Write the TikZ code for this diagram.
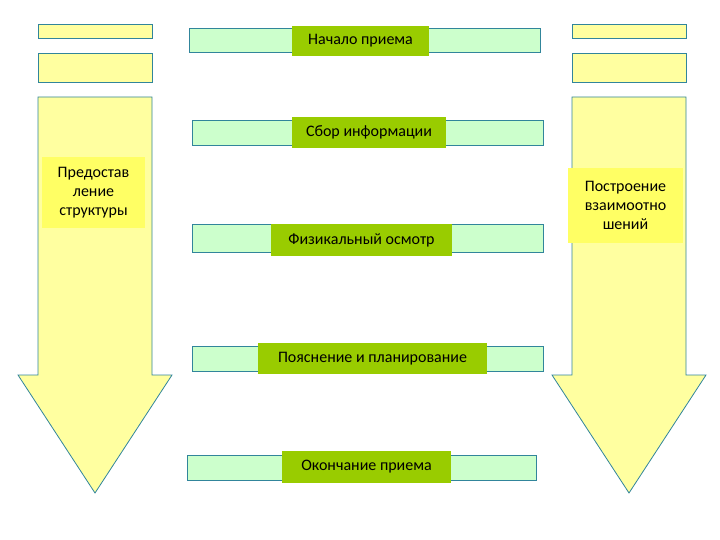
\documentclass[tikz,border=0pt]{standalone}
\usepackage{fontspec}
\setmainfont{Carlito}
\begin{document}
\begin{tikzpicture}[x=1pt,y=-1pt,
  yel/.style={fill=ylw,draw=edge,line width=0.8pt},
  bar/.style={fill=barg,draw=edge,line width=0.8pt},
  lab/.style={fill=labg,inner sep=0pt,font=\fontsize{16}{18}\selectfont},
  side/.style={fill=sidey,inner sep=0pt,align=center,font=\fontsize{16}{19}\selectfont}]
\definecolor{ylw}{RGB}{255,255,160}
\definecolor{edge}{RGB}{49,133,155}
\definecolor{barg}{RGB}{204,255,204}
\definecolor{labg}{RGB}{153,204,0}
\definecolor{sidey}{RGB}{255,255,100}
\useasboundingbox (0,0) rectangle (720,540);
% left
\draw[yel] (38,24) rectangle (152,38);
\draw[yel] (38,53) rectangle (152,82);
\draw[yel] (38,97) -- (152,97) -- (152,375) -- (172,375) -- (95,493) -- (18,375) -- (38,375) -- cycle;
\node[side,minimum width=103pt,minimum height=71pt] (ls) at (93.5,192.5) {Предостав\\ление\\структуры};
% right
\draw[yel] (572,24) rectangle (686,38);
\draw[yel] (572,53) rectangle (686,82);
\draw[yel] (572,97) -- (686,97) -- (686,375) -- (706,375) -- (629,493) -- (552,375) -- (572,375) -- cycle;
\node[side,minimum width=115pt,minimum height=75pt] (rs) at (625.5,205.5) {Построение\\взаимоотно\\шений};
% bars
\draw[bar] (189,28) rectangle (540,52);
\node[lab,minimum width=137pt,minimum height=30pt] (a) at (360.5,41) {Начало приема};
\draw[bar] (192,120) rectangle (543,145);
\node[lab,minimum width=154pt,minimum height=31pt] (b) at (369,132.5) {Сбор информации};
\draw[bar] (192,224) rectangle (543,252);
\node[lab,minimum width=181pt,minimum height=32pt] (c) at (361.5,240) {Физикальный осмотр};
\draw[bar] (192,346) rectangle (543,371);
\node[lab,minimum width=229pt,minimum height=31pt] (d) at (372.5,358.5) {Пояснение и планирование};
\draw[bar] (187,455) rectangle (536,480);
\node[lab,minimum width=169pt,minimum height=32pt] (e) at (366.5,467) {Окончание приема};
\end{tikzpicture}
\end{document}
